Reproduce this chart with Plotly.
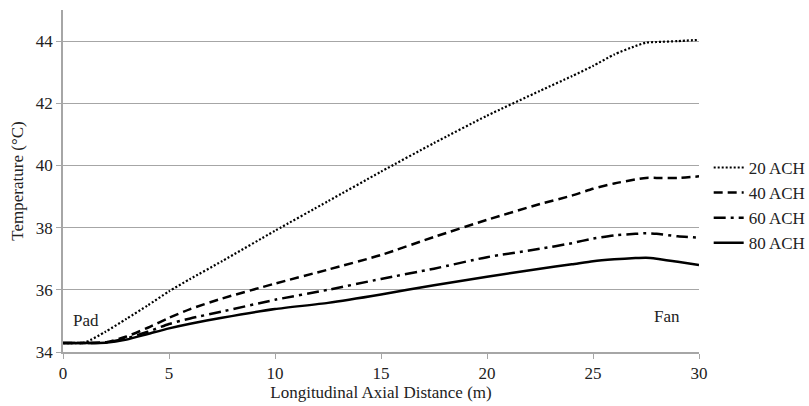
import plotly.graph_objects as go

# Longitudinal position along the greenhouse (m)
distance = [0, 1, 2, 3, 4, 5, 6, 7.5, 10, 12.5, 15, 17.5, 20, 22.5, 24, 25, 26, 27, 27.5, 28, 29, 30]

# Air temperature (°C) for each ventilation rate
temp_20ach = [34.29, 34.30, 34.65, 35.07, 35.50, 35.95, 36.35, 36.92, 37.90, 38.85, 39.80, 40.72,
              41.60, 42.40, 42.87, 43.20, 43.57, 43.84, 43.95, 43.97, 44.00, 44.04]
temp_40ach = [34.29, 34.29, 34.31, 34.50, 34.78, 35.10, 35.38, 35.72, 36.20, 36.65, 37.12, 37.70,
              38.25, 38.76, 39.03, 39.25, 39.42, 39.55, 39.60, 39.60, 39.60, 39.65]
temp_60ach = [34.29, 34.29, 34.31, 34.44, 34.65, 34.90, 35.08, 35.30, 35.68, 36.00, 36.35, 36.68,
              37.05, 37.32, 37.50, 37.65, 37.75, 37.80, 37.82, 37.80, 37.72, 37.68]
temp_80ach = [34.29, 34.29, 34.30, 34.40, 34.58, 34.76, 34.91, 35.10, 35.38, 35.58, 35.85, 36.15,
              36.42, 36.68, 36.82, 36.92, 36.98, 37.02, 37.03, 37.00, 36.90, 36.80]

series_names = ["20 ACH", "40 ACH", "60 ACH", "80 ACH"]
series_values = [temp_20ach, temp_40ach, temp_60ach, temp_80ach]
series_dash = ["2px,2px", "9px,5px", "12px,5px,3px,5px", "solid"]
series_width = [2.2, 2.5, 2.5, 2.5]

FONT = "Liberation Serif, Times New Roman, serif"
GRID = "#a6a6a6"
TEXT = "#222"

fig = go.Figure()
for name, vals, dash, w in zip(series_names, series_values, series_dash, series_width):
    fig.add_trace(go.Scatter(
        x=distance, y=vals, name=name, mode="lines",
        line=dict(color="black", width=w, dash=dash, shape="spline", smoothing=0.6),
    ))

fig.add_annotation(x=0.4, y=35.02, text="Pad", showarrow=False, xanchor="left",
                   font=dict(family=FONT, size=17, color=TEXT))
fig.add_annotation(x=28.5, y=35.13, text="Fan", showarrow=False, xanchor="center",
                   font=dict(family=FONT, size=17, color=TEXT))

fig.update_layout(
    width=809, height=406,
    margin=dict(l=63, r=110, t=10, b=54, autoexpand=False),
    paper_bgcolor="white", plot_bgcolor="white",
    font=dict(family=FONT, size=17, color=TEXT),
    showlegend=True,
    legend=dict(xref="container", yref="container",
                x=0.876, y=0.494, xanchor="left", yanchor="middle",
                font=dict(family=FONT, size=17, color=TEXT),
                tracegroupgap=0, itemwidth=30, bgcolor="rgba(0,0,0,0)"),
    xaxis=dict(
        range=[0, 30], tickmode="linear", tick0=0, dtick=5,
        showgrid=False, zeroline=False, automargin=False,
        showline=True, linecolor=GRID, linewidth=1.5,
        ticks="outside", ticklen=5, tickcolor=GRID,
        tickfont=dict(family=FONT, size=17, color=TEXT),
        title=dict(text="Longitudinal Axial Distance (m)", standoff=4,
                   font=dict(family=FONT, size=17, color=TEXT)),
    ),
    yaxis=dict(
        range=[34, 45], tickmode="linear", tick0=34, dtick=2,
        showgrid=True, gridcolor=GRID, gridwidth=1.2, zeroline=False, automargin=False,
        showline=True, linecolor=GRID, linewidth=1.5,
        ticks="outside", ticklen=5, tickcolor=GRID,
        tickfont=dict(family=FONT, size=17, color=TEXT),
        title=dict(text="Temperature (°C)", standoff=8,
                   font=dict(family=FONT, size=17, color=TEXT)),
    ),
)

fig.write_html("out.html")
